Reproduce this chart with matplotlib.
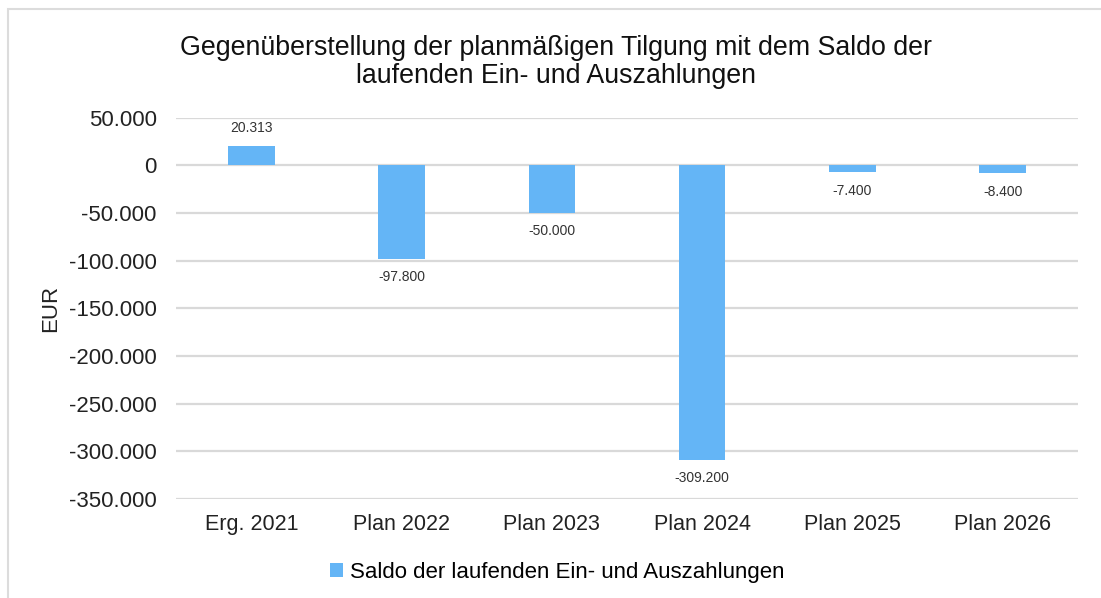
import matplotlib
matplotlib.use('Agg')
import matplotlib.pyplot as plt
from matplotlib.patches import Rectangle
from matplotlib.ticker import FuncFormatter

plt.rcParams['font.family'] = ['Liberation Sans', 'DejaVu Sans']

categories = ['Erg. 2021', 'Plan 2022', 'Plan 2023', 'Plan 2024', 'Plan 2025', 'Plan 2026']
saldo = [20313, -97800, -50000, -309200, -7400, -8400]
yticks = [50000, 0, -50000, -100000, -150000, -200000, -250000, -300000, -350000]

bar_color = '#64b5f6'
grid_color = '#d9d9d9'


def de_format(v, pos=None):
    # German thousands separator
    return f'{int(v):,}'.replace(',', '.')


fig = plt.figure(figsize=(11.01, 5.98), dpi=100)
ax = fig.add_axes([0.160, 0.166, 0.819, 0.637])

x = list(range(len(categories)))
bars = ax.bar(x, saldo, width=0.31, color=bar_color, zorder=3,
              label='Saldo der laufenden Ein- und Auszahlungen')

ax.set_xlim(-0.5, len(categories) - 0.5)
ax.set_ylim(-350000, 50000)
ax.set_yticks(yticks)
ax.yaxis.set_major_formatter(FuncFormatter(de_format))
ax.set_xticks(x)
ax.set_xticklabels(categories)
ax.tick_params(axis='both', length=0, colors='#222222')
ax.tick_params(axis='x', pad=11, labelsize=15.5)
ax.tick_params(axis='y', pad=14, labelsize=16)
ax.grid(axis='y', color=grid_color, linewidth=1.6, zorder=0)
for s in ax.spines.values():
    s.set_visible(False)

for b, v in zip(bars, saldo):
    off = 8 if v >= 0 else -8
    ax.annotate(de_format(v), (b.get_x() + b.get_width() / 2, v),
                xytext=(0, off), textcoords='offset points',
                ha='center', va='bottom' if v >= 0 else 'top',
                fontsize=10, color='#333333')

ax.set_ylabel('EUR', fontsize=16, color='#222222')
ax.yaxis.set_label_coords(-0.128, 0.50)

fig.text(0.505, 0.896, 'Gegenüberstellung der planmäßigen Tilgung mit dem Saldo der\nlaufenden Ein- und Auszahlungen',
         ha='center', va='center', fontsize=19.3, color='#111111', linespacing=1.12)

fig.legend(handles=[bars], loc='center', bbox_to_anchor=(0.506, 0.043),
           frameon=False, fontsize=16, handlelength=0.6, handleheight=0.6,
           handletextpad=0.3)

# light frame around the chart (only top/left visible in the crop)
fig.patches.append(Rectangle((0.007, -0.05), 1.2, 1.035, transform=fig.transFigure,
                             fill=False, edgecolor='#dcdcdc', linewidth=1.5))

fig.savefig('out.png', dpi=100)
